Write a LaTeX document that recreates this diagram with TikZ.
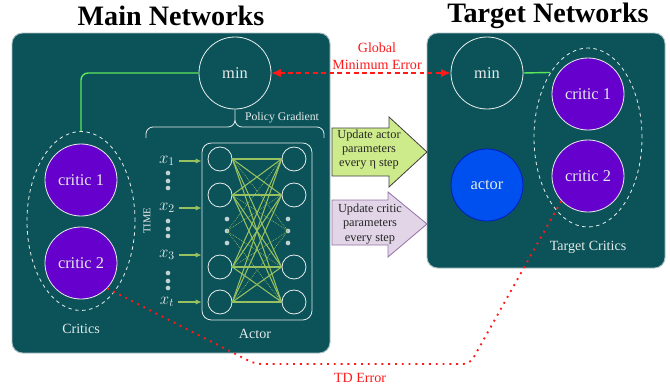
\documentclass[tikz,border=0pt]{standalone}
\usepackage{fontspec}
\setmainfont{Liberation Serif}
\usepackage{amsmath}
\usepackage{xcolor}
\usetikzlibrary{arrows.meta,shapes.geometric}
\definecolor{panelfill}{HTML}{0B5359}
\definecolor{panelline}{HTML}{A9BEC4}
\definecolor{softwhite}{HTML}{E4EAEA}
\definecolor{criticfill}{HTML}{6600CC}
\definecolor{actorfill}{HTML}{0050EF}
\definecolor{actorline}{HTML}{001DBC}
\definecolor{linkgreen}{HTML}{5BE85B}
\definecolor{netgreen}{HTML}{97C060}
\definecolor{actorarrow}{HTML}{CDEB8B}
\definecolor{criticarrow}{HTML}{E1D5E7}
\definecolor{criticarrowline}{HTML}{9673A6}
\definecolor{errred}{HTML}{FF1A1A}
\tikzstyle{panelbox} = [draw=panelline, fill=panelfill, line width=0.8pt, rounded corners=9pt]
\tikzstyle{bigtitle} = [font=\fontsize{24}{28}\selectfont\bfseries]
\tikzstyle{minnode} = [circle, draw=softwhite, line width=0.7pt, minimum size=2.16cm,
    text=softwhite, font=\fontsize{14}{16}\selectfont]
\tikzstyle{critic} = [circle, draw=softwhite, fill=criticfill, line width=0.7pt,
    minimum size=2.16cm, text=softwhite, font=\fontsize{14}{16}\selectfont]
\tikzstyle{critgroup} = [ellipse, draw=softwhite, dashed, line width=0.7pt,
    minimum width=3.24cm, minimum height=5.37cm]
\tikzstyle{neuron} = [circle, draw=softwhite, line width=0.7pt, minimum size=0.72cm, inner sep=0pt]
\tikzstyle{smalldot} = [circle, fill=softwhite!85!panelfill, minimum size=0.14cm, inner sep=0pt]
\tikzstyle{paneltext} = [text=softwhite, font=\fontsize{12}{14}\selectfont]
\tikzstyle{inlabel} = [text=softwhite, font=\fontsize{14}{16}\selectfont, inner sep=1pt]
\tikzstyle{inarrow} = [netgreen, line width=1pt, -{Latex[length=5pt,width=4.5pt]}]
\tikzstyle{netline} = [netgreen, line width=0.9pt]
\tikzstyle{netdots} = [netgreen, line width=0.6pt, densely dotted]
\tikzstyle{errtext} = [text=errred, font=\fontsize{12}{14.5}\selectfont]
\tikzstyle{blocktext} = [text=black!85, font=\fontsize{10.5}{12.3}\selectfont, align=center, inner sep=0pt]

\begin{document}
\begin{tikzpicture}[x=0.03cm, y=-0.03cm]
\useasboundingbox (0,0) rectangle (670,387);
% titles and panels
\node[bigtitle] (maintitle) at (171,16) {Main Networks};
\node[bigtitle] (targettitle) at (548,16) {Target Networks};
\draw[panelbox] (12,33) rectangle (330,353);
\draw[panelbox] (427,33) rectangle (665,268);

% main networks
\node[minnode] (mmin) at (235,73) {min};
\node[critgroup] (mcritics) at (81,221) {};
\node[critic] (mcritic1) at (81,180) {critic 1};
\node[critic] (mcritic2) at (81,263) {critic 2};
\node[paneltext] (mcriticslabel) at (81,329) {Critics};
\draw[linkgreen, line width=1.2pt, rounded corners=6pt] (mmin.west) -| (mcritics.north);

% brace under min
\draw[softwhite, line width=0.7pt, rounded corners=6pt]
    (146,138) -- (146,127) -- (235,127) -- (mmin.south)
    (324,138) -- (324,127) -- (235,127) -- (mmin.south);
\node[paneltext, font=\fontsize{10}{12}\selectfont] (pg) at (282,118) {Policy Gradient};

% actor network
\node[draw=softwhite, line width=0.7pt, rounded corners=8pt, minimum width=3.3cm,
    minimum height=5.31cm] (actorbox) at (257,231.5) {};
\foreach \n/\y in {1/159,2/195,3/267,4/302} {
    \node[neuron] (l\n) at (220,\y) {};
    \node[neuron] (r\n) at (294,\y) {};
}
\foreach \y in {219,231,243} {
    \node[smalldot] at (227,\y) {};
    \node[smalldot] at (288,\y) {};
}
\coordinate (ldot) at (227,231);
\coordinate (rdot) at (288,231);
\foreach \i in {1,...,4} {
    \foreach \j in {1,...,4}
        \draw[netline] (l\i.east) -- (r\j.west);
    \draw[netdots] (l\i.east) -- (rdot);
    \draw[netdots] (ldot) -- (r\i.west);
}
\node[paneltext] (actorlabel) at (255,334) {Actor};

% inputs over time
\foreach \n/\t/\y in {1/1/161,2/2/208,3/3/255,4/t/302} {
    \node[inlabel] (x\n) at (167,\y) {$x_{\t}$};
    \draw[inarrow] ([xshift=2pt]x\n.east) -- (x\n.east -| actorbox.west);
}
\foreach \y in {173,181,188,221,229,236,273,281,288}
    \node[smalldot] at (168,\y) {};
\node[paneltext, font=\fontsize{9}{10}\selectfont, rotate=90] (time) at (147,221) {TIME};

% target networks
\node[minnode] (tmin) at (487,73) {min};
\node[critgroup] (tcritics) at (588,137.5) {};
\node[critic] (tcritic1) at (588,94) {critic 1};
\node[critic] (tcritic2) at (588,176) {critic 2};
\node[critic, fill=actorfill, draw=actorline] (tactor) at (487,185) {actor};
\node[paneltext] (tcriticslabel) at (588,247) {Target Critics};
\draw[linkgreen, line width=1.2pt] (tmin.east) -- (tcritics.120);

% parameter updates
\draw[fill=actorarrow, draw=black!75, line width=0.7pt]
    (332,128) -- (389,128) -- (389,117) -- (427,152) -- (389,187) -- (389,176) -- (332,176) -- cycle;
\node[blocktext] (updactor) at (369,149.5) {Update actor\\parameters\\every η step};
\draw[fill=criticarrow, draw=criticarrowline, line width=0.7pt]
    (332,200) -- (388,200) -- (388,192) -- (427,224) -- (388,257) -- (388,245) -- (332,245) -- cycle;
\node[blocktext] (updcritic) at (370,224) {Update critic\\parameters\\every step};

% errors
\draw[errred, line width=1.2pt, dash pattern=on 4pt off 3pt,
    {Latex[length=8pt,width=7pt]}-{Latex[length=8pt,width=7pt]}] (mmin.east) -- (tmin.west);
\node[errtext, align=center] (globalerr) at (377,56) {Global\\Minimum Error};
\draw[errred, line width=1.6pt, dash pattern=on 1.6pt off 4.2pt, rounded corners=6pt]
    (mcritic2.-44) -- (255,364) -- (470,364) -- (tcritic2.-137);
\node[errtext] (tderr) at (360,378) {TD Error};
\end{tikzpicture}
\end{document}
